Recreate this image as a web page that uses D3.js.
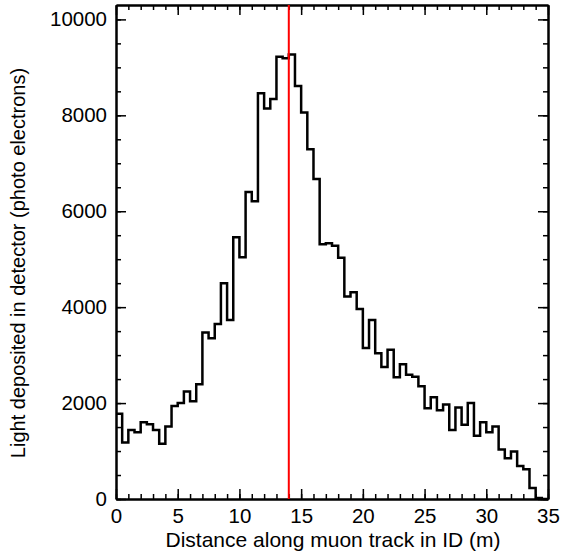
<!DOCTYPE html>
<html>
<head>
<meta charset="utf-8">
<script src="https://cdn.jsdelivr.net/npm/d3@7"></script>
<style>
  body { margin: 0; background: #fff; }
  text { font-family: "Liberation Sans", Arial, sans-serif; }
</style>
</head>
<body>
<div id="chart"></div>
<script>
// light deposited per 0.5 m bin, 0 .. 35 m
const binWidth = 0.5;
const lightValues = [
  1780, 1180, 1440, 1390, 1600, 1560, 1440, 1150, 1510, 1940,
  2000, 2240, 2040, 2390, 3470, 3350, 3650, 4500, 3730, 5460,
  5040, 6400, 6210, 8460, 8140, 8340, 9220, 9190, 9270, 8610,
  8060, 7290, 6670, 5310, 5330, 5280, 5030, 4220, 4310, 3960,
  3150, 3730, 3040, 2750, 3110, 2540, 2810, 2590, 2550, 2350,
  1890, 2120, 1850, 1970, 1440, 1910, 1550, 2000, 1320, 1600,
  1390, 1510, 1030, 850, 990, 690, 620, 230, 20, 0
];
const binStarts = lightValues.map((v, i) => i * binWidth);
const markerX = 14;

const xTicks = [0, 5, 10, 15, 20, 25, 30, 35];
const yTicks = [0, 2000, 4000, 6000, 8000, 10000];
const xDomain = [0, 35];
const yDomain = [0, 10300];

const margin = { top: 5, right: 13, bottom: 60, left: 116 };
const width = 561 - margin.left - margin.right;
const height = 559 - margin.top - margin.bottom;

const svg = d3.select("#chart")
  .append("svg")
  .attr("width", 561)
  .attr("height", 559)
  .append("g")
  .attr("transform", "translate(" + margin.left + "," + margin.top + ")");

const x = d3.scaleLinear().domain(xDomain).range([0, width]);
const y = d3.scaleLinear().domain(yDomain).range([height, 0]);

function styleAxis(g, withLabels) {
  g.selectAll(".domain").attr("stroke", "#000").attr("stroke-width", 2);
  g.selectAll(".tick line").attr("stroke", "#000").attr("stroke-width", 1.5);
  g.selectAll(".tick text")
    .attr("fill", "#000")
    .style("font-size", "20.5px")
    .style("display", withLabels ? null : "none");
}

// minor ticks
svg.append("g")
  .attr("transform", "translate(0," + height + ")")
  .call(d3.axisBottom(x).tickValues(d3.range(0, 36, 1)).tickSizeInner(-5).tickSizeOuter(0).tickFormat(""))
  .call(g => styleAxis(g, false));
svg.append("g")
  .call(d3.axisTop(x).tickValues(d3.range(0, 36, 1)).tickSizeInner(-5).tickSizeOuter(0).tickFormat(""))
  .call(g => styleAxis(g, false));
svg.append("g")
  .call(d3.axisLeft(y).tickValues(d3.range(0, 10001, 500)).tickSizeInner(-5).tickSizeOuter(0).tickFormat(""))
  .call(g => styleAxis(g, false));
svg.append("g")
  .attr("transform", "translate(" + width + ",0)")
  .call(d3.axisRight(y).tickValues(d3.range(0, 10001, 500)).tickSizeInner(-5).tickSizeOuter(0).tickFormat(""))
  .call(g => styleAxis(g, false));

// major ticks
svg.append("g")
  .attr("transform", "translate(0," + height + ")")
  .call(d3.axisBottom(x).tickValues(xTicks).tickSizeInner(-10).tickSizeOuter(0).tickPadding(9).tickFormat(d3.format("d")))
  .call(g => styleAxis(g, true));
svg.append("g")
  .call(d3.axisTop(x).tickValues(xTicks).tickSizeInner(-10).tickSizeOuter(0))
  .call(g => styleAxis(g, false));
svg.append("g")
  .call(d3.axisLeft(y).tickValues(yTicks).tickSizeInner(-10).tickSizeOuter(0).tickPadding(9).tickFormat(d3.format("d")))
  .call(g => styleAxis(g, true));
svg.append("g")
  .attr("transform", "translate(" + width + ",0)")
  .call(d3.axisRight(y).tickValues(yTicks).tickSizeInner(-10).tickSizeOuter(0))
  .call(g => styleAxis(g, false));

// histogram outline
const stepPoints = binStarts.map((s, i) => [s, lightValues[i]]);
stepPoints.push([binStarts[binStarts.length - 1] + binWidth, lightValues[lightValues.length - 1]]);

svg.append("path")
  .datum(stepPoints)
  .attr("fill", "none")
  .attr("stroke", "#000")
  .attr("stroke-width", 2.5)
  .attr("d", d3.line().x(d => x(d[0])).y(d => y(d[1])).curve(d3.curveStepAfter));

// marker line
svg.append("line")
  .attr("x1", x(markerX)).attr("x2", x(markerX))
  .attr("y1", y(yDomain[1])).attr("y2", y(0))
  .attr("stroke", "#ff0000")
  .attr("stroke-width", 2);

// axis titles
svg.append("text")
  .attr("x", width / 2 + 1)
  .attr("y", height + 48)
  .attr("text-anchor", "middle")
  .style("font-size", "21px")
  .text("Distance along muon track in ID (m)");

svg.append("text")
  .attr("transform", "translate(" + (-91) + "," + (height / 2 + 11) + ") rotate(-90)")
  .attr("text-anchor", "middle")
  .style("font-size", "20px")
  .text("Light deposited in detector (photo electrons)");
</script>
</body>
</html>
